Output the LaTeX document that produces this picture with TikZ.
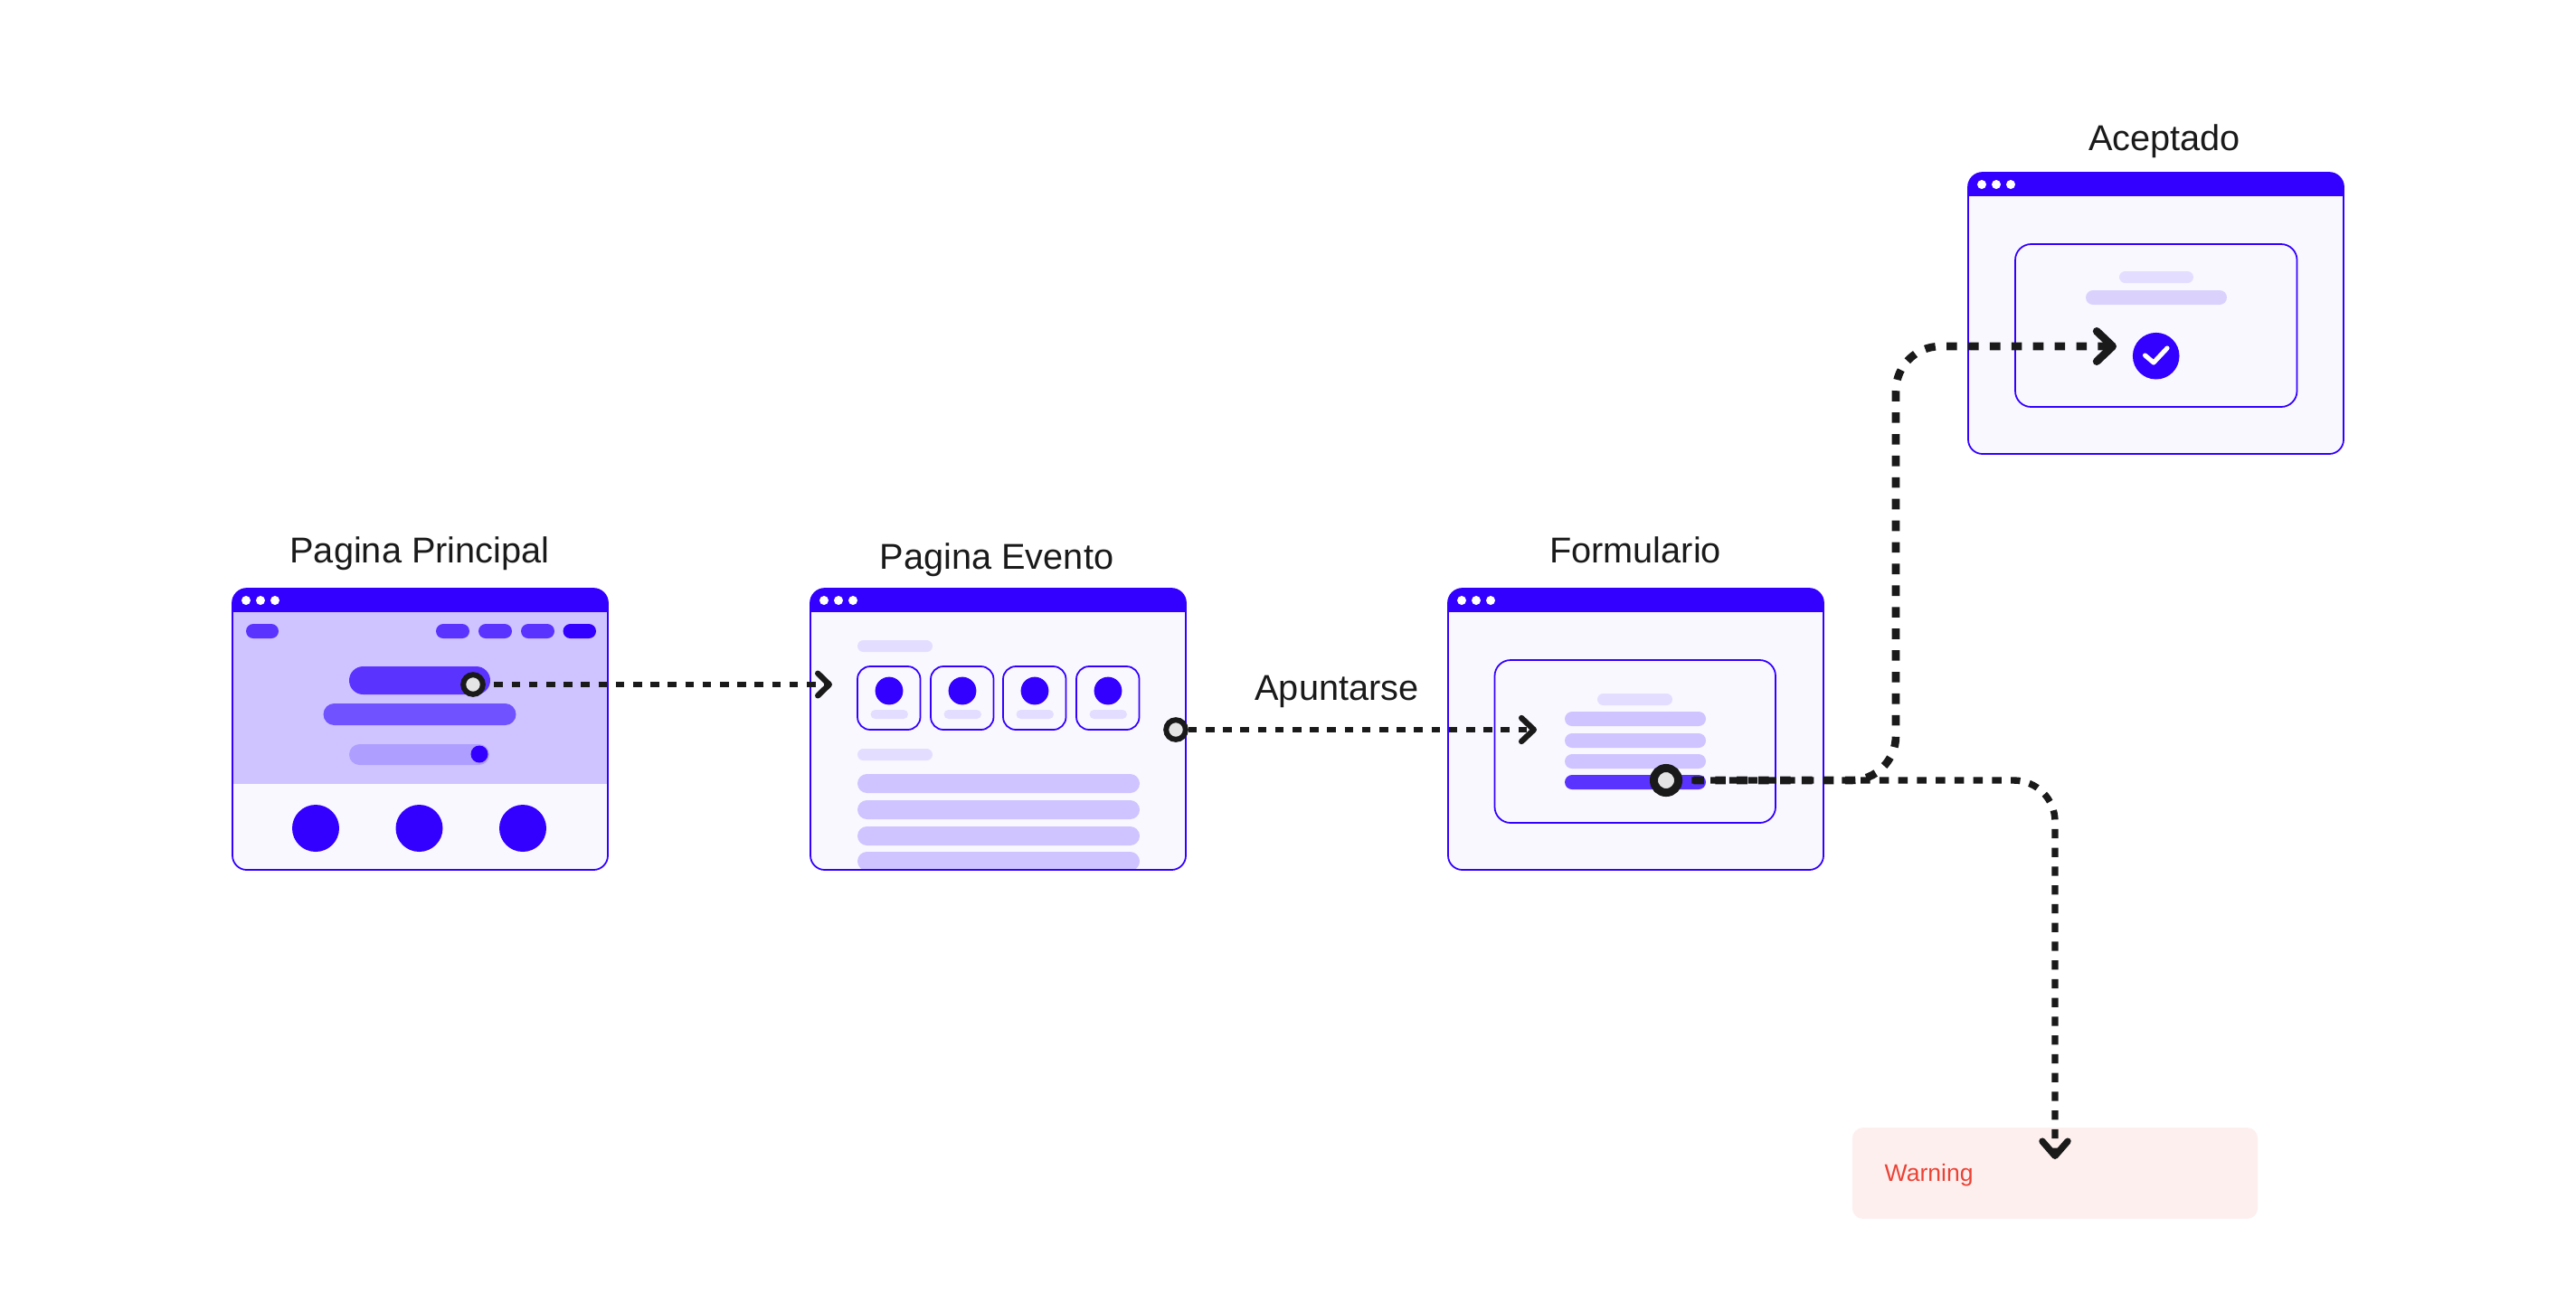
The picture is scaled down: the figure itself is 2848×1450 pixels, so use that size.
\documentclass[tikz,border=0pt]{standalone}
\usepackage{fontspec}
\setmainfont{Liberation Sans}
\usetikzlibrary{arrows.meta}

\definecolor{brand}{HTML}{3300FF}
\definecolor{winbody}{HTML}{F9F8FF}
\definecolor{hero}{HTML}{CFC4FF}
\definecolor{pillpale}{HTML}{E3DEFF}
\definecolor{pillmid}{HTML}{DAD2FD}
\definecolor{pillstrong}{HTML}{5A33FF}
\definecolor{pillsoft}{HTML}{7052FF}
\definecolor{pilldim}{HTML}{AE9EFF}
\definecolor{ink}{HTML}{1A1A1A}
\definecolor{dotgrey}{HTML}{E5E5E5}
\definecolor{warnfill}{HTML}{FEEFEF}
\definecolor{warntext}{HTML}{EA4335}

\tikzset{
  title/.style={font=\fontsize{11.3}{13}\selectfont, text=ink, anchor=base, inner sep=0pt},
  startdot/.style={circle, draw=ink, fill=dotgrey, line width=1.7pt, minimum size=6.15pt, inner sep=0pt},
  bigdot/.style={startdot, line width=2.56pt, minimum size=7.7pt},
  flowline/.style={draw=ink, line width=1.8pt, dash pattern=on 2.73pt off 2.73pt},
  flowmid/.style={draw=ink, line width=2.1pt, dash pattern=on 2.95pt off 2.95pt, dash phase=2.95pt, rounded corners=13pt},
  flowbig/.style={draw=ink, line width=2.45pt, dash pattern=on 3.3pt off 3.5pt, dash phase=3.3pt, rounded corners=14pt},
  framed/.style={draw=brand, line width=0.5pt},
  warnbox/.style={fill=warnfill, rounded corners=3.4pt, minimum width=127.5pt, minimum height=28.7pt, inner sep=0pt}
}

% one rounded bar: x1,y1,x2,y2,colour
\newcommand{\pill}[5]{
  \pgfmathsetmacro{\pillr}{0.1423*abs(#4-#2)}
  \fill[#5, rounded corners=\pillr pt] (#1,#2) rectangle (#3,#4);
}

% browser window: x,y,contents
\newcommand{\pagewin}[3]{
  \begin{scope}[shift={(#1,#2)}]
    \fill[winbody, rounded corners=4.5pt] (0,0) rectangle (415,311);
    \begin{scope}
      \clip[rounded corners=4.5pt] (0,0) rectangle (415,311);
      \fill[brand] (0,0) rectangle (415,26);
      #3
    \end{scope}
    \draw[framed, rounded corners=4.5pt] (0,0) rectangle (415,311);
    \foreach \x in {15,31,47} {
      \fill[white] (\x,13) circle (5);
    }
  \end{scope}
}

\begin{document}
\begin{tikzpicture}[x=0.01cm,y=-0.01cm]
  \useasboundingbox (0,0) rectangle (2848,1450);

  %main page
  \pagewin{257}{651}{
    \fill[hero] (0,26) rectangle (415,216);
    \pill{15}{39}{51}{55}{pillstrong}
    \foreach \x in {225,272,319} {
      \pill{\x}{39}{\x+37}{55}{pillstrong}
    }
    \pill{365.5}{39}{402}{55}{brand}
    \pill{129}{86}{285}{117}{pillstrong}
    \pill{100.5}{127}{313.5}{151}{pillsoft}
    \pill{129}{172}{284}{195}{pilldim}
    \fill[brand] (273,183) circle (9.5);
    \foreach \x in {92,206.5,321} {
      \fill[brand] (\x,265) circle (26);
    }
  }

  %event page
  \pagewin{896}{651}{
    \pill{52}{57}{135}{70}{pillpale}
    \pill{52}{177}{135}{190}{pillpale}
    \foreach \x in {52,133,213,294} {
      \draw[framed, rounded corners=4pt] (\x,86) rectangle (\x+69.5,156);
      \fill[brand] (\x+35,113) circle (15.4);
      \pill{\x+14.5}{134}{\x+56}{144}{pillpale}
    }
    \foreach \y in {205,234,263,291} {
      \pill{52}{\y}{364}{\y+21}{hero}
    }
  }

  %form page
  \pagewin{1601}{651}{
    \draw[framed, rounded corners=5pt] (51.5,79) rectangle (362,259);
    \pill{165}{116}{248}{129}{pillpale}
    \foreach \y in {136,160,183} {
      \pill{129}{\y}{285}{\y+16}{hero}
    }
    \pill{129}{206}{285}{222}{pillstrong}
  }

  %accepted page
  \pagewin{2176}{191}{
    \draw[framed, rounded corners=5pt] (52,79) rectangle (363.5,259);
    \pill{167}{109}{249}{122}{pillpale}
    \pill{130}{130}{286}{146}{pillmid}
    \fill[brand] (207.7,202.7) circle (25.8);
    \draw[white, line width=1.45pt, line cap=round, line join=round] (195.5,202) -- (205,210) -- (220,194);
  }

  %titles
  \node[title] (mainTitle) at (464,622) {Pagina Principal};
  \node[title] (eventTitle) at (1102,629) {Pagina Evento};
  \node[title] (formTitle) at (1808,622) {Formulario};
  \node[title] (acceptTitle) at (2393,166) {Aceptado};
  \node[title] (joinLabel) at (1478,774) {Apuntarse};

  %warning
  \node[warnbox] (warnBox) at (2272,1297.5) {};
  \node[anchor=base west, inner sep=0pt, text=warntext, font=\fontsize{7.55}{9}\selectfont] (warnText) at (2083,1306) {Warning};

  %start dots and arrow ends
  \node[startdot] (startMain) at (523,757) {};
  \node[startdot] (startEvent) at (1300,807) {};
  \node[bigdot] (startForm) at (1842,863) {};
  \coordinate (endEvent) at (920,757);
  \coordinate (endForm) at (1699,807);
  \coordinate (endAccept) at (2340,383);
  \coordinate (endWarn) at (2272,1282);
  \coordinate (turnUp) at (2096,640);

  %draw flows
  \draw[flowline, dash phase=2.73pt, -{Straight Barb[length=3.6pt, width=7pt, round]}] (startMain) -- (endEvent);
  \draw[flowline, -{Straight Barb[length=3.9pt, width=7.4pt, round]}] (startEvent) -- (endForm);
  \draw[flowbig, -{Straight Barb[length=5pt, width=9.5pt, round]}] (startForm) -| (turnUp) |- (endAccept);
  \draw[flowmid, -{Straight Barb[length=4.6pt, width=8pt, round]}] (startForm) -| (endWarn);
\end{tikzpicture}
\end{document}
